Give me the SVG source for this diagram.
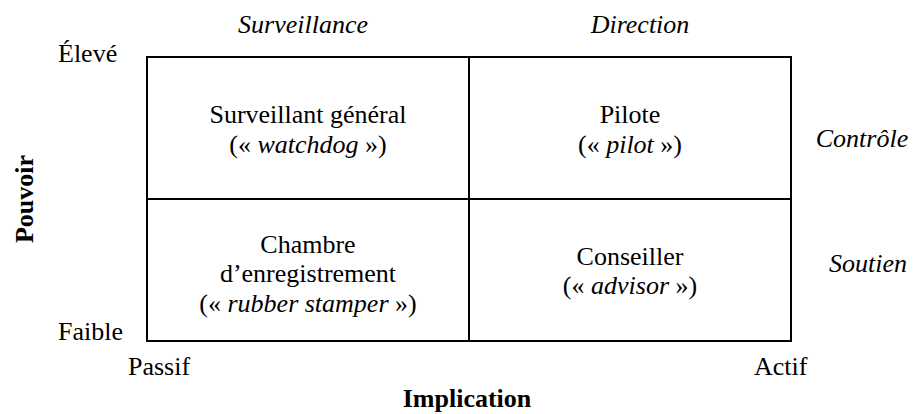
<svg xmlns="http://www.w3.org/2000/svg" width="917" height="414" viewBox="0 0 917 414">
<style>
text{font-family:"Liberation Serif","Times New Roman",serif;font-size:26px;fill:#000}
.c{text-anchor:middle}
.i{font-style:italic}
.b{font-weight:bold}
.q{fill:#fff;stroke:#000;stroke-width:2}
</style>
<rect width="917" height="414" fill="#fff"/>
<g id="connectors"></g>
<g id="q-watchdog">
<rect class="q" x="147" y="57" width="322" height="142"/>
<text class="c" x="308" y="123">Surveillant général</text>
<text class="c" x="308" y="153">(« <tspan class="i">watchdog</tspan> »)</text>
</g>
<g id="q-pilot">
<rect class="q" x="469" y="57" width="322" height="142"/>
<text class="c" x="630" y="123">Pilote</text>
<text class="c" x="630" y="153">(« <tspan class="i">pilot</tspan> »)</text>
</g>
<g id="q-rubber">
<rect class="q" x="147" y="199" width="322" height="142"/>
<text class="c" x="308" y="253">Chambre</text>
<text class="c" x="308" y="282">d’enregistrement</text>
<text class="c" x="308" y="312">(« <tspan class="i">rubber stamper</tspan> »)</text>
</g>
<g id="q-advisor">
<rect class="q" x="469" y="199" width="322" height="142"/>
<text class="c" x="630" y="265">Conseiller</text>
<text class="c" x="630" y="294">(« <tspan class="i">advisor</tspan> »)</text>
</g>
<g id="labels">
<text class="c i" x="303" y="33">Surveillance</text>
<text class="c i" x="640" y="33">Direction</text>
<text class="c i" x="862" y="147">Contrôle</text>
<text class="c i" x="868" y="272">Soutien</text>
<text x="58" y="62">Élevé</text>
<text x="58" y="340">Faible</text>
<text x="128" y="375">Passif</text>
<text x="754" y="375">Actif</text>
<text class="c b" x="467" y="407">Implication</text>
<text class="c b" transform="translate(33,199) rotate(-90)">Pouvoir</text>
</g>
</svg>
